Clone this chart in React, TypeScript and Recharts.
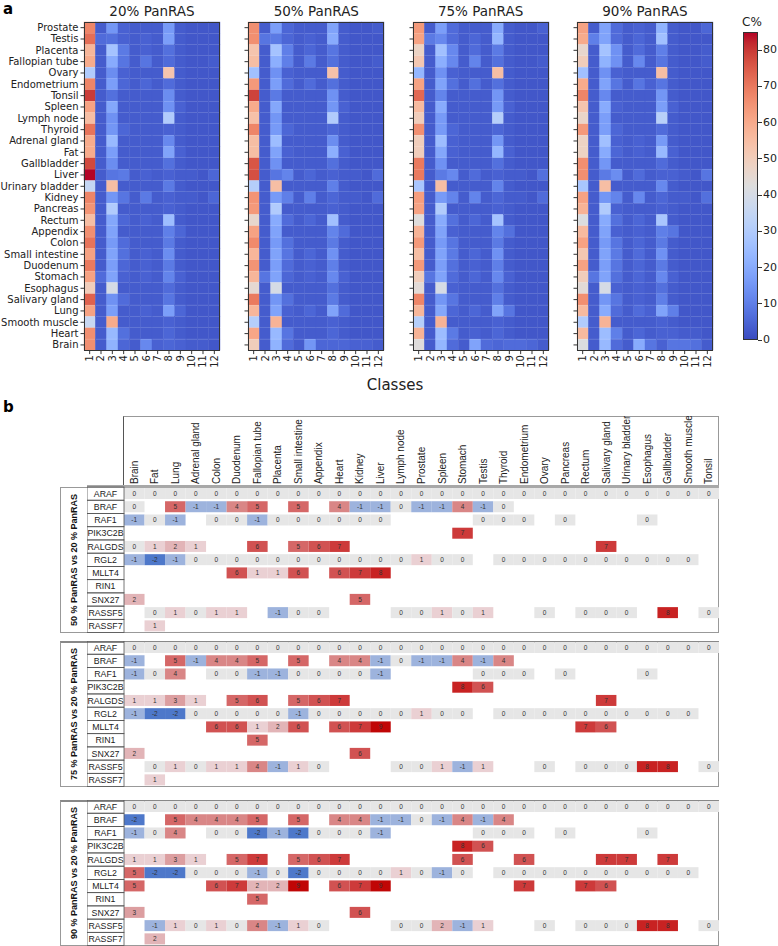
import React from 'react';
import { BarChart, Bar, XAxis, YAxis } from 'recharts';

// ---------- panel a ----------
const CLASSES = ['1', '2', '3', '4', '5', '6', '7', '8', '9', '10', '11', '12'];
const TISSUES_A = [
  'Prostate', 'Testis', 'Placenta', 'Fallopian tube', 'Ovary', 'Endometrium', 'Tonsil', 'Spleen',
  'Lymph node', 'Thyroid', 'Adrenal gland', 'Fat', 'Gallbladder', 'Liver', 'Urinary bladder', 'Kidney',
  'Pancreas', 'Rectum', 'Appendix', 'Colon', 'Small intestine', 'Duodenum', 'Stomach', 'Esophagus',
  'Salivary gland', 'Lung', 'Smooth muscle', 'Heart', 'Brain',
];
const PANEL_TITLES = ['20% PanRAS', '50% PanRAS', '75% PanRAS', '90% PanRAS'];

const PAN20 = [
  [68, 3, 15, 4, 3, 3, 3, 16, 3, 2, 2, 2],
  [72, 6, 7, 4, 3, 4, 3, 17, 3, 2, 2, 2],
  [57, 3, 27, 9, 3, 4, 3, 7, 3, 2, 2, 2],
  [60, 3, 20, 8, 3, 8, 3, 6, 3, 2, 2, 3],
  [30, 3, 13, 4, 3, 3, 3, 53, 3, 2, 2, 2],
  [68, 3, 17, 5, 3, 5, 3, 6, 3, 2, 2, 2],
  [80, 3, 7, 3, 3, 3, 3, 13, 3, 2, 2, 2],
  [62, 3, 19, 3, 3, 3, 3, 14, 4, 2, 2, 2],
  [55, 3, 14, 3, 3, 3, 3, 30, 3, 2, 2, 2],
  [71, 3, 15, 5, 3, 3, 3, 4, 3, 2, 2, 2],
  [60, 3, 24, 3, 3, 3, 3, 12, 3, 2, 2, 2],
  [60, 3, 17, 3, 3, 3, 3, 18, 4, 2, 2, 2],
  [78, 3, 13, 3, 3, 3, 3, 7, 3, 2, 2, 2],
  [85, 3, 8, 9, 3, 4, 3, 4, 3, 3, 2, 5],
  [35, 3, 55, 3, 3, 3, 3, 9, 3, 2, 2, 2],
  [68, 3, 15, 8, 3, 9, 3, 4, 3, 3, 2, 5],
  [65, 3, 30, 3, 3, 3, 3, 4, 3, 2, 2, 2],
  [55, 3, 19, 5, 3, 4, 3, 25, 3, 2, 2, 2],
  [66, 3, 18, 3, 3, 3, 3, 10, 5, 2, 2, 2],
  [71, 3, 16, 6, 3, 3, 3, 9, 3, 2, 2, 2],
  [62, 3, 18, 7, 3, 4, 3, 13, 3, 2, 2, 2],
  [70, 3, 17, 5, 3, 4, 3, 9, 3, 2, 2, 2],
  [62, 6, 18, 4, 3, 4, 3, 11, 4, 2, 2, 2],
  [50, 3, 40, 3, 3, 3, 3, 6, 3, 2, 2, 2],
  [74, 3, 14, 6, 3, 3, 3, 8, 3, 2, 2, 2],
  [62, 3, 17, 3, 3, 4, 3, 17, 5, 2, 2, 2],
  [36, 3, 60, 3, 3, 3, 3, 4, 3, 2, 2, 2],
  [66, 3, 24, 7, 3, 3, 3, 5, 3, 2, 2, 2],
  [66, 3, 22, 5, 3, 12, 4, 5, 4, 3, 3, 2],
];
const PAN50 = [
  [66, 3, 17, 5, 3, 3, 3, 18, 3, 2, 2, 3],
  [66, 8, 9, 5, 3, 4, 3, 20, 3, 2, 2, 2],
  [53, 3, 27, 10, 3, 5, 3, 8, 3, 2, 2, 2],
  [55, 3, 21, 10, 3, 9, 3, 7, 3, 2, 2, 3],
  [26, 3, 14, 4, 3, 3, 3, 54, 3, 2, 2, 2],
  [64, 3, 17, 6, 3, 6, 3, 7, 3, 2, 2, 2],
  [79, 3, 9, 3, 3, 3, 3, 14, 3, 2, 2, 2],
  [60, 3, 19, 3, 3, 3, 3, 15, 4, 2, 2, 2],
  [54, 3, 15, 3, 3, 3, 3, 30, 3, 2, 2, 2],
  [68, 3, 16, 5, 3, 3, 3, 5, 3, 2, 2, 2],
  [55, 3, 25, 3, 3, 3, 3, 13, 3, 2, 2, 2],
  [55, 3, 18, 4, 3, 3, 3, 21, 4, 2, 2, 2],
  [76, 3, 14, 3, 3, 3, 3, 7, 3, 2, 2, 2],
  [77, 3, 8, 11, 3, 5, 3, 4, 3, 3, 2, 6],
  [31, 3, 55, 3, 3, 3, 3, 10, 3, 2, 2, 2],
  [65, 3, 16, 10, 3, 10, 3, 5, 3, 3, 2, 6],
  [64, 3, 30, 3, 3, 3, 3, 4, 3, 2, 2, 2],
  [46, 3, 20, 6, 3, 5, 3, 26, 3, 2, 2, 2],
  [62, 3, 18, 3, 3, 3, 3, 11, 6, 2, 2, 2],
  [67, 3, 16, 7, 3, 3, 3, 9, 3, 2, 2, 2],
  [57, 3, 18, 8, 3, 5, 3, 14, 3, 2, 2, 2],
  [65, 3, 17, 6, 3, 4, 3, 10, 3, 2, 2, 2],
  [57, 8, 18, 5, 3, 4, 3, 12, 4, 2, 2, 2],
  [45, 3, 40, 3, 3, 3, 3, 7, 3, 2, 2, 2],
  [70, 3, 15, 7, 3, 3, 3, 9, 3, 2, 2, 2],
  [57, 3, 18, 4, 3, 5, 3, 18, 6, 2, 2, 2],
  [31, 3, 58, 3, 3, 3, 3, 4, 3, 2, 2, 2],
  [61, 3, 24, 8, 3, 3, 3, 5, 3, 2, 2, 2],
  [50, 3, 22, 6, 3, 15, 5, 5, 5, 4, 4, 3],
];
const PAN75 = [
  [64, 3, 17, 6, 3, 3, 3, 20, 3, 2, 2, 4],
  [62, 9, 12, 6, 3, 5, 3, 23, 3, 2, 2, 2],
  [48, 3, 26, 12, 3, 6, 3, 9, 3, 2, 2, 2],
  [52, 3, 21, 12, 3, 11, 3, 7, 3, 2, 2, 3],
  [23, 3, 14, 4, 3, 3, 3, 55, 3, 2, 2, 2],
  [62, 3, 18, 7, 3, 7, 3, 7, 3, 2, 2, 2],
  [73, 3, 11, 3, 3, 3, 3, 15, 3, 2, 2, 2],
  [56, 3, 20, 3, 3, 3, 3, 16, 4, 2, 2, 2],
  [50, 3, 16, 3, 3, 3, 3, 31, 3, 2, 2, 2],
  [66, 3, 16, 5, 3, 3, 3, 5, 3, 2, 2, 2],
  [50, 3, 25, 4, 3, 3, 3, 15, 3, 2, 2, 2],
  [50, 3, 19, 4, 3, 3, 3, 23, 4, 2, 2, 2],
  [70, 3, 14, 3, 3, 3, 3, 7, 3, 2, 2, 2],
  [70, 3, 9, 12, 3, 6, 3, 4, 3, 3, 2, 7],
  [28, 3, 55, 3, 3, 3, 3, 11, 3, 2, 2, 2],
  [63, 3, 16, 11, 3, 11, 3, 5, 3, 3, 2, 6],
  [62, 3, 30, 3, 3, 3, 3, 4, 3, 2, 2, 2],
  [43, 3, 20, 7, 3, 5, 3, 27, 3, 2, 2, 2],
  [58, 3, 18, 4, 3, 3, 3, 11, 7, 2, 2, 2],
  [64, 3, 16, 8, 3, 3, 3, 9, 3, 2, 2, 2],
  [55, 3, 18, 9, 3, 5, 3, 14, 3, 2, 2, 2],
  [64, 3, 17, 7, 3, 4, 3, 10, 3, 2, 2, 2],
  [50, 8, 18, 6, 3, 5, 3, 12, 4, 2, 2, 2],
  [44, 3, 40, 4, 3, 3, 3, 7, 3, 2, 2, 2],
  [68, 3, 15, 8, 3, 3, 3, 10, 3, 2, 2, 2],
  [57, 3, 19, 5, 3, 5, 3, 18, 8, 2, 2, 2],
  [31, 3, 58, 3, 3, 3, 3, 4, 3, 2, 2, 2],
  [58, 3, 25, 9, 3, 4, 3, 5, 3, 2, 2, 2],
  [43, 3, 23, 6, 3, 18, 6, 5, 6, 6, 5, 3],
];
const PAN90 = [
  [62, 3, 18, 6, 3, 4, 3, 22, 3, 2, 2, 5],
  [60, 10, 18, 6, 3, 5, 3, 26, 3, 2, 2, 2],
  [46, 3, 27, 14, 3, 6, 3, 10, 3, 2, 2, 3],
  [50, 3, 22, 14, 3, 12, 3, 8, 3, 2, 2, 3],
  [26, 3, 14, 4, 3, 3, 3, 55, 3, 2, 2, 2],
  [60, 3, 18, 8, 3, 8, 4, 8, 3, 2, 2, 2],
  [68, 3, 12, 3, 3, 3, 3, 15, 3, 2, 2, 2],
  [53, 3, 20, 4, 3, 3, 3, 17, 4, 2, 2, 2],
  [47, 3, 17, 3, 3, 3, 3, 32, 3, 2, 2, 2],
  [64, 3, 17, 5, 3, 3, 3, 6, 3, 2, 2, 2],
  [48, 3, 26, 4, 3, 4, 3, 16, 3, 2, 2, 2],
  [48, 3, 20, 5, 3, 4, 3, 24, 4, 2, 2, 2],
  [66, 3, 15, 3, 3, 3, 3, 6, 3, 2, 2, 2],
  [66, 3, 9, 13, 3, 6, 3, 4, 4, 3, 2, 8],
  [28, 3, 55, 3, 3, 3, 3, 12, 3, 2, 2, 2],
  [62, 3, 15, 11, 3, 12, 3, 5, 3, 3, 2, 7],
  [58, 3, 30, 4, 3, 3, 3, 4, 3, 2, 2, 2],
  [42, 3, 20, 7, 3, 5, 3, 28, 3, 2, 2, 2],
  [56, 3, 18, 4, 3, 4, 3, 10, 8, 2, 2, 2],
  [62, 3, 16, 8, 3, 5, 3, 9, 3, 2, 2, 2],
  [52, 3, 18, 9, 3, 6, 3, 14, 3, 2, 2, 2],
  [62, 3, 17, 8, 3, 5, 3, 9, 3, 2, 2, 2],
  [50, 8, 18, 7, 3, 5, 3, 12, 4, 2, 2, 2],
  [44, 3, 40, 4, 3, 4, 3, 7, 3, 2, 2, 2],
  [66, 3, 15, 8, 3, 4, 3, 10, 3, 2, 2, 2],
  [56, 3, 20, 6, 3, 6, 4, 18, 10, 2, 2, 2],
  [30, 3, 58, 3, 3, 3, 3, 4, 3, 2, 2, 2],
  [56, 3, 25, 10, 3, 5, 3, 4, 4, 3, 3, 2],
  [42, 3, 24, 6, 3, 20, 8, 4, 8, 8, 7, 3],
];
const PANELS = [PAN20, PAN50, PAN75, PAN90];
const COLORBAR_TICKS = [0, 10, 20, 30, 40, 50, 60, 70, 80];
const VMAX = 85;

// ---------- panel b ----------
const N = null;
const GENES = ['ARAF', 'BRAF', 'RAF1', 'PIK3C2B', 'RALGDS', 'RGL2', 'MLLT4', 'RIN1', 'SNX27', 'RASSF5', 'RASSF7'];
const TISSUES_B = [
  'Brain', 'Fat', 'Lung', 'Adrenal gland', 'Colon', 'Duodenum', 'Fallopian tube', 'Placenta',
  'Small intestine', 'Appendix', 'Heart', 'Kidney', 'Liver', 'Lymph node', 'Prostate', 'Spleen',
  'Stomach', 'Testis', 'Thyroid', 'Endometrium', 'Ovary', 'Pancreas', 'Rectum', 'Salivary gland',
  'Urinary bladder', 'Esophagus', 'Gallbladder', 'Smooth muscle', 'Tonsil',
];
const COMPARISONS = ['50 % PanRAS vs 20 % PanRAS', '75 % PanRAS vs 20 % PanRAS', '90 % PanRAS vs 20 % PanRAS'];

const DIFF50 = [
  [0, 0, 0, 0, 0, 0, 0, 0, 0, 0, 0, 0, 0, 0, 0, 0, 0, 0, 0, 0, 0, 0, 0, 0, 0, 0, 0, 0, 0],
  [0, N, 5, -1, -1, 4, 5, N, 5, N, 4, -1, -1, 0, -1, -1, 4, -1, 0, N, N, N, N, N, N, N, N, N, N],
  [-1, 0, -1, N, 0, 0, -1, 0, 0, 0, 0, 0, 0, N, N, N, N, 0, 0, 0, N, 0, N, N, N, 0, N, N, N],
  [N, N, N, N, N, N, N, N, N, N, N, N, N, N, N, N, 7, N, N, N, N, N, N, N, N, N, N, N, N],
  [0, 1, 2, 1, N, N, 6, N, 5, 6, 7, N, N, N, N, N, N, N, N, N, N, N, N, 7, N, N, N, N, N],
  [-1, -2, -1, 0, 0, 0, 0, 0, 0, 0, 0, 0, 0, 0, 1, 0, 0, N, 0, 0, 0, 0, 0, 0, 0, 0, 0, 0, N],
  [N, N, N, N, N, 6, 1, 1, 6, N, 6, 7, 8, N, N, N, N, N, N, N, N, N, N, N, N, N, N, N, N],
  [N, N, N, N, N, N, N, N, N, N, N, N, N, N, N, N, N, N, N, N, N, N, N, N, N, N, N, N, N],
  [2, N, N, N, N, N, N, N, N, N, N, 5, N, N, N, N, N, N, N, N, N, N, N, N, N, N, N, N, N],
  [N, 0, 1, 0, 1, 1, N, -1, 0, 0, N, N, N, 0, 0, 1, 0, 1, N, N, 0, N, 0, 0, 0, N, 8, N, 0],
  [N, 1, N, N, N, N, N, N, N, N, N, N, N, N, N, N, N, N, N, N, N, N, N, N, N, N, N, N, N],
];
const DIFF75 = [
  [0, 0, 0, 0, 0, 0, 0, 0, 0, 0, 0, 0, 0, 0, 0, 0, 0, 0, 0, 0, 0, 0, 0, 0, 0, 0, 0, 0, 0],
  [-1, N, 5, -1, 4, 4, 5, N, 5, N, 4, 4, -1, 0, -1, -1, 4, -1, 4, N, N, N, N, N, N, N, N, N, N],
  [-1, 0, 4, N, 0, 0, -1, -1, 0, 0, 0, 0, -1, N, N, N, N, 0, 0, 0, N, 0, N, N, N, 0, N, N, N],
  [N, N, N, N, N, N, N, N, N, N, N, N, N, N, N, N, 8, 6, N, N, N, N, N, N, N, N, N, N, N],
  [1, 1, 3, 1, N, 5, 6, N, 5, 6, 7, N, N, N, N, N, N, N, N, N, N, N, N, 7, N, N, N, N, N],
  [-1, -2, -2, 0, 0, 0, 0, 0, -1, 0, 0, 0, 0, 0, 1, 0, 0, N, 0, 0, 0, 0, 0, 0, 0, 0, 0, 0, N],
  [N, N, N, N, 6, 6, 1, 2, 6, N, 6, 7, 9, N, N, N, N, N, N, N, N, N, 7, 6, N, N, N, N, N],
  [N, N, N, N, N, N, 5, N, N, N, N, N, N, N, N, N, N, N, N, N, N, N, N, N, N, N, N, N, N],
  [2, N, N, N, N, N, N, N, N, N, N, 6, N, N, N, N, N, N, N, N, N, N, N, N, N, N, N, N, N],
  [N, 0, 1, 0, 1, 1, 4, -1, 1, 0, N, N, N, 0, 0, 1, -1, 1, N, N, 0, N, 0, 0, 0, 8, 8, N, 0],
  [N, 1, N, N, N, N, N, N, N, N, N, N, N, N, N, N, N, N, N, N, N, N, N, N, N, N, N, N, N],
];
const DIFF90 = [
  [0, 0, 0, 0, 0, 0, 0, 0, 0, 0, 0, 0, 0, 0, 0, 0, 0, 0, 0, 0, 0, 0, 0, 0, 0, 0, 0, 0, 0],
  [-2, N, 5, 4, 4, 4, 5, N, 5, N, 4, 4, -1, -1, 0, -1, 4, -1, 4, N, N, N, N, N, N, N, N, N, N],
  [-1, 0, 4, N, 0, 0, -2, -1, -2, 0, 0, 0, -1, N, N, N, N, 0, 0, 0, N, 0, N, N, N, 0, N, N, N],
  [N, N, N, N, N, N, N, N, N, N, N, N, N, N, N, N, 8, 6, N, N, N, N, N, N, N, N, N, N, N],
  [1, 1, 3, 1, N, 5, 7, N, 5, 6, 7, N, N, N, N, N, 6, N, N, 6, N, N, N, 7, 7, N, 7, N, N],
  [5, -2, -2, 0, 0, 0, -1, 0, -2, 0, 0, 0, 0, 1, 0, -1, 0, N, 0, 0, 0, 0, 0, 0, 0, 0, 0, 0, N],
  [5, N, N, N, 6, 7, 2, 2, 9, N, 6, 7, 9, N, N, N, N, N, N, 7, N, N, 7, 6, N, N, N, N, N],
  [N, N, N, N, N, N, 5, N, N, N, N, N, N, N, N, N, N, N, N, N, N, N, N, N, N, N, N, N, N],
  [3, N, N, N, N, N, N, N, N, N, N, 6, N, N, N, N, N, N, N, N, N, N, N, N, N, N, N, N, N],
  [N, -1, 1, 0, 1, 0, 4, -1, 1, 0, N, N, N, 0, 0, 2, -1, 1, N, N, 0, N, 0, 0, 0, 8, 8, N, 0],
  [N, 2, N, N, N, N, N, N, N, N, N, N, N, N, N, N, N, N, N, N, N, N, N, N, N, N, N, N, N],
];
const TABLES = [DIFF50, DIFF75, DIFF90];

// ---------- colours & layout ----------
const COOLWARM: number[][] = [
  [59, 76, 192], [68, 90, 204], [77, 104, 215], [87, 117, 225], [98, 130, 234], [108, 142, 241],
  [119, 154, 247], [130, 165, 251], [141, 176, 254], [152, 185, 255], [163, 194, 255], [174, 201, 253],
  [184, 208, 249], [194, 213, 244], [204, 217, 238], [213, 219, 230], [221, 221, 221], [229, 216, 209],
  [236, 211, 197], [241, 204, 185], [245, 196, 173], [247, 187, 160], [247, 177, 148], [247, 166, 135],
  [244, 154, 123], [241, 141, 111], [236, 127, 99], [229, 112, 88], [222, 96, 77], [213, 80, 66],
  [203, 62, 56], [192, 40, 47], [180, 4, 38],
];
const coolwarm = (v: number) => {
  const t = Math.max(0, Math.min(1, v / VMAX)) * (COOLWARM.length - 1);
  const i = Math.min(COOLWARM.length - 2, Math.floor(t));
  const f = t - i;
  const c = COOLWARM[i].map((a, j) => Math.round(a + (COOLWARM[i + 1][j] - a) * f));
  return `rgb(${c[0]},${c[1]},${c[2]})`;
};
const DIFF_COLORS: Record<number, string> = {
  [-2]: '#4e78ca', [-1]: '#9db3dd', 0: '#e6e6e6', 1: '#ead0d3', 2: '#e2b4b7', 3: '#dc9ea0',
  4: '#d98686', 5: '#d56767', 6: '#d15252', 7: '#cd3a3a', 8: '#c82222', 9: '#c00606',
};

const HEAT_LEFTS = [84, 248.3, 412.6, 576.9];
const HEAT_TOP = 22;
const HEAT_W = 136;
const HEAT_H = 328.6;
const CB = { left: 743, top: 32, w: 15, h: 308 };

const TABLE_TOPS = [487.4, 641.4, 800.2];
const TABLE_H = 145.6;
const DATA_LEFT = 124;
const DATA_W = 595;
const GENE_W = 37;
const HEADER_H = 71;

const FONT_A = '"DejaVu Sans", sans-serif';
const FONT_B = '"Liberation Sans Narrow", "Liberation Sans", Arial, sans-serif';
const FONT_SIDE = '"Liberation Sans", Arial, sans-serif';

const HeatCell = (p: any) => {
  const v = p.payload[`v${p.k}`];
  const fill = coolwarm(v);
  return <rect x={p.x} y={p.y} width={p.width} height={p.height} fill={fill} stroke={fill} strokeWidth={0.4} />;
};

const ClassTick = (p: any) => (
  <text x={p.x} y={p.y} transform={`rotate(-90 ${p.x} ${p.y})`} textAnchor="end" dy="0.35em" fontSize={10} fill="#222" fontFamily={FONT_A}>
    {CLASSES[Math.floor(p.payload.value)]}
  </text>
);

const TissueLabel = (p: any) => (
  <text x={p.x} y={p.y} textAnchor="end" dy="0.35em" fontSize={10} fill="#222" fontFamily={FONT_A}>
    {p.payload.value}
  </text>
);

const Heatmap = ({ values, index }: { values: number[][]; index: number }) => {
  const labels = index === 0;
  const yw = labels ? 84 : 6;
  const data = TISSUES_A.map((t, r) => {
    const row: Record<string, any> = { tissue: t };
    CLASSES.forEach((c, k) => {
      row[`u${k}`] = 1;
      row[`v${k}`] = values[r][k];
    });
    return row;
  });
  return (
    <div style={{ position: 'absolute', left: HEAT_LEFTS[index] - yw, top: 0 }}>
      <BarChart
        width={yw + HEAT_W + 1}
        height={HEAT_TOP + HEAT_H + 40}
        data={data}
        layout="vertical"
        margin={{ top: HEAT_TOP, right: 1, bottom: 0, left: 0 }}
        barCategoryGap={0}
      >
        <XAxis
          type="number"
          domain={[0, CLASSES.length]}
          ticks={CLASSES.map((c, k) => k + 0.5)}
          interval={0}
          height={40}
          tickSize={3.5}
          tickMargin={1}
          axisLine={false}
          tickLine={{ stroke: '#333' }}
          tick={<ClassTick />}
        />
        <YAxis
          type="category"
          dataKey="tissue"
          width={yw}
          interval={0}
          tickSize={3.5}
          tickMargin={2}
          axisLine={false}
          tickLine={{ stroke: '#333' }}
          tick={labels ? <TissueLabel /> : () => <g />}
        />
        {CLASSES.map((c, k) => (
          <Bar key={c} dataKey={`u${k}`} stackId="h" isAnimationActive={false} shape={(p: any) => <HeatCell {...p} k={k} />} />
        ))}
      </BarChart>
      <div
        style={{
          position: 'absolute', left: yw, top: HEAT_TOP, width: HEAT_W, height: HEAT_H,
          border: '1px solid #333', boxSizing: 'border-box', pointerEvents: 'none',
        }}
      />
    </div>
  );
};

const DiffCell = (p: any) => {
  const v = p.payload[`v${p.k}`];
  if (v === null || v === undefined) return <g />;
  return (
    <g>
      <rect x={p.x} y={p.y} width={p.width} height={p.height} fill={DIFF_COLORS[v]} />
      <text x={p.x + p.width / 2} y={p.y + p.height / 2} dy="0.35em" textAnchor="middle" fontSize={6.5} fill="#333" fontFamily={FONT_B}>
        {v}
      </text>
    </g>
  );
};

const GeneTick = (p: any) => {
  const h = TABLE_H / GENES.length;
  return (
    <g>
      <rect x={p.x - GENE_W} y={p.y - h / 2} width={GENE_W} height={h} fill="none" stroke="#555" strokeWidth={0.8} />
      <text x={p.x - GENE_W / 2} y={p.y} dy="0.35em" textAnchor="middle" fontSize={8.8} fill="#222" fontFamily={FONT_B}>
        {p.payload.value}
      </text>
    </g>
  );
};

const TissueTick = (p: any) => (
  <text x={p.x} y={p.y} transform={`rotate(-90 ${p.x} ${p.y})`} textAnchor="start" dy="0.35em" fontSize={10} fill="#222" fontFamily={FONT_B}>
    {TISSUES_B[Math.floor(p.payload.value)]}
  </text>
);

const DiffTable = ({ values, index }: { values: (number | null)[][]; index: number }) => {
  const header = index === 0;
  const top = TABLE_TOPS[index];
  const data = GENES.map((g, r) => {
    const row: Record<string, any> = { gene: g };
    TISSUES_B.forEach((t, k) => {
      row[`u${k}`] = 1;
      row[`v${k}`] = values[r][k];
    });
    return row;
  });
  return (
    <>
      <div
        style={{
          position: 'absolute', left: 60, top, width: DATA_LEFT + DATA_W - 60, height: TABLE_H,
          border: '1px solid #999', borderTop: header ? '1px solid #999' : '2px solid #888',
          boxSizing: 'border-box',
        }}
      />
      {header && (
        <div style={{ position: 'absolute', left: 87, top: top - 2, width: DATA_LEFT + DATA_W - 87, height: 3, background: '#a8a8a8' }} />
      )}
      <div
        style={{
          position: 'absolute', left: 73.5, top: top + TABLE_H / 2, transform: 'translate(-50%, -50%) rotate(-90deg)',
          whiteSpace: 'nowrap', fontFamily: FONT_SIDE, fontWeight: 'bold', fontSize: 9, color: '#111',
        }}
      >
        {COMPARISONS[index]}
      </div>
      <div style={{ position: 'absolute', left: DATA_LEFT - GENE_W, top: header ? top - HEADER_H : top }}>
        <BarChart
          width={GENE_W + DATA_W}
          height={(header ? HEADER_H : 0) + TABLE_H}
          data={data}
          layout="vertical"
          margin={{ top: 0, right: 0, bottom: 0, left: 0 }}
          barCategoryGap={1}
        >
          <XAxis
            type="number"
            orientation="top"
            domain={[0, TISSUES_B.length]}
            ticks={TISSUES_B.map((t, k) => k + 0.5)}
            interval={0}
            hide={!header}
            height={HEADER_H}
            tickSize={0}
            tickMargin={3}
            axisLine={false}
            tickLine={false}
            tick={<TissueTick />}
          />
          <YAxis
            type="category"
            dataKey="gene"
            width={GENE_W}
            interval={0}
            tickSize={0}
            tickMargin={0}
            axisLine={false}
            tickLine={false}
            tick={<GeneTick />}
          />
          {TISSUES_B.map((t, k) => (
            <Bar key={t} dataKey={`u${k}`} stackId="t" isAnimationActive={false} shape={(p: any) => <DiffCell {...p} k={k} />} />
          ))}
        </BarChart>
      </div>
    </>
  );
};

const Colorbar = () => {
  const stops = COOLWARM.map((c, i) => `rgb(${c[0]},${c[1]},${c[2]}) ${((i / (COOLWARM.length - 1)) * 100).toFixed(2)}%`).join(', ');
  return (
    <>
      <div style={{ position: 'absolute', left: CB.left - 1, top: 15, fontFamily: FONT_A, fontSize: 12, color: '#222' }}>C%</div>
      <div
        style={{
          position: 'absolute', left: CB.left, top: CB.top, width: CB.w, height: CB.h,
          background: `linear-gradient(to top, ${stops})`, border: '1px solid #333', boxSizing: 'border-box',
        }}
      />
      {COLORBAR_TICKS.map((t) => {
        const y = CB.top + CB.h - (t / VMAX) * CB.h;
        return (
          <React.Fragment key={t}>
            <div style={{ position: 'absolute', left: CB.left + CB.w, top: y - 0.5, width: 3.5, height: 1, background: '#333' }} />
            <div style={{ position: 'absolute', left: CB.left + CB.w + 5, top: y - 7, fontFamily: FONT_A, fontSize: 11, color: '#222', lineHeight: '14px' }}>
              {t}
            </div>
          </React.Fragment>
        );
      })}
    </>
  );
};

export default function App() {
  return (
    <div style={{ position: 'absolute', left: 0, top: 0, width: 778, height: 946, background: '#fff', overflow: 'hidden' }}>
      <div style={{ position: 'absolute', left: 3, top: 0, fontFamily: FONT_A, fontWeight: 'bold', fontSize: 15 }}>a</div>
      {PANEL_TITLES.map((t, i) => (
        <div
          key={t}
          style={{
            position: 'absolute', left: HEAT_LEFTS[i], top: 3, width: HEAT_W, textAlign: 'center',
            fontFamily: FONT_A, fontSize: 13.5, color: '#222',
          }}
        >
          {t}
        </div>
      ))}
      {PANELS.map((m, i) => (
        <Heatmap key={i} values={m} index={i} />
      ))}
      <div style={{ position: 'absolute', left: 330, top: 376, width: 130, textAlign: 'center', fontFamily: FONT_A, fontSize: 15, color: '#222' }}>
        Classes
      </div>
      <Colorbar />

      <div style={{ position: 'absolute', left: 3, top: 398, fontFamily: FONT_A, fontWeight: 'bold', fontSize: 15 }}>b</div>
      <div
        style={{
          position: 'absolute', left: DATA_LEFT - 1, top: TABLE_TOPS[0] - HEADER_H, width: DATA_W + 1, height: HEADER_H,
          borderTop: '1px solid #999', borderLeft: '1px solid #555', borderRight: '1px solid #999', boxSizing: 'border-box',
        }}
      />
      {TABLES.map((t, i) => (
        <DiffTable key={i} values={t} index={i} />
      ))}
    </div>
  );
}
